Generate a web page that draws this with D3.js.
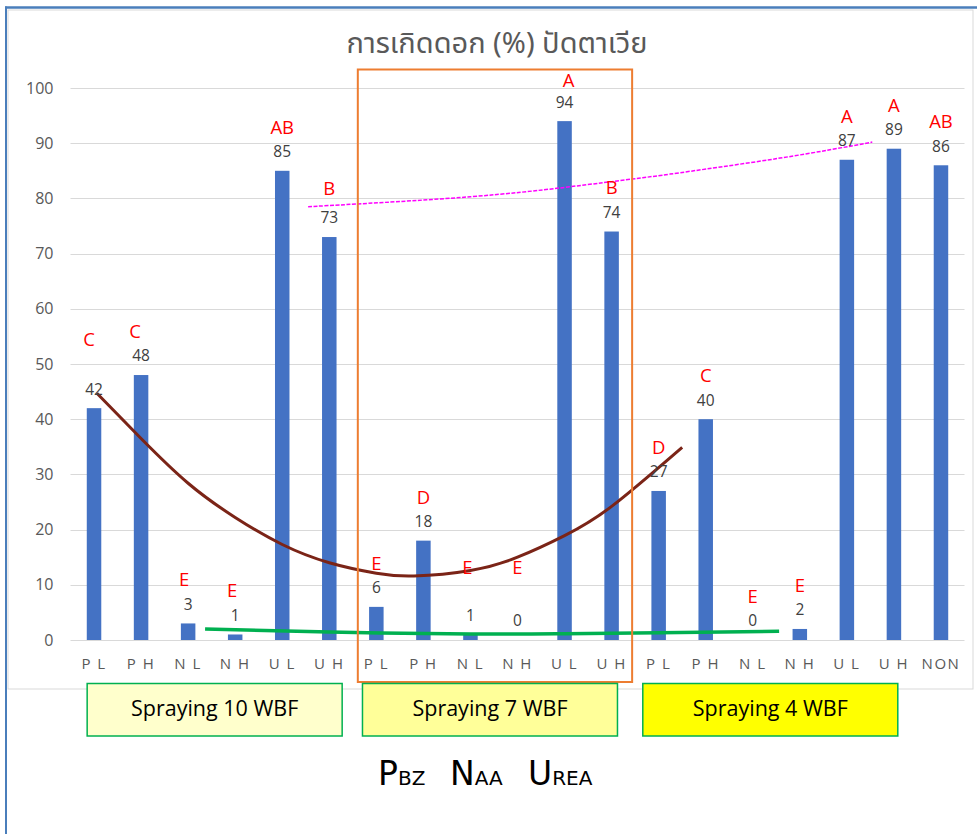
<!DOCTYPE html>
<html>
<head>
<meta charset="utf-8">
<script src="https://cdn.jsdelivr.net/npm/d3@7/dist/d3.min.js"></script>
<style>
  html, body { margin: 0; padding: 0; background: #fff; }
  svg { display: block; }
  text { font-family: "Open Sans", "Noto Sans", "DejaVu Sans", sans-serif; }
</style>
</head>
<body>
<svg id="chart" width="977" height="834"></svg>
<script>
// Flowering percentage per treatment, three spraying times plus the untreated control
const categories = ["P L","P H","N L","N H","U L","U H",
                    "P L","P H","N L","N H","U L","U H",
                    "P L","P H","N L","N H","U L","U H",
                    "NON"];
const values = [42, 48, 3, 1, 85, 73,
                6, 18, 1, 0, 94, 74,
                27, 40, 0, 2, 87, 89,
                86];
const letters = ["C","C","E","E","AB","B",
                 "E","D","E","E","A","B",
                 "D","C","E","E","A","A",
                 "AB"];
const yTicks = [0, 10, 20, 30, 40, 50, 60, 70, 80, 90, 100];

// Spraying groups: first and last category index of each
const groupLabels = ["Spraying 10 WBF", "Spraying 7 WBF", "Spraying 4 WBF"];
const groupFirst = [0, 6, 12];
const groupLast = [5, 11, 17];

// Trend curves as (category position, value) pairs
const trendPBZ = [[0.06, 44.7], [1, 36.5], [2, 28.4], [3, 22.2], [4, 17.3], [5, 14.0],
                  [6, 12.1], [6.8, 11.6], [8, 12.6], [9, 15.0], [10, 18.9], [11, 24.2], [12.5, 34.9]];
const trendNAA = [[2.36, 2.0], [5, 1.45], [8, 1.1], [10, 1.15], [12, 1.3], [14.56, 1.6]];
const trendUrea = [[4.55, 78.5], [5.61, 79.0], [8, 80.3], [10.01, 82.0], [11.43, 83.5],
                   [12.24, 84.4], [14.58, 87.3], [16.54, 90.2]];

const svg = d3.select("#chart");
const W = 977, H = 834;
const plot = { left: 70.5, right: 964.5, top: 88, bottom: 640 };

// Outer frame and chart area
svg.append("rect").attr("x", 8).attr("y", 10).attr("width", 965).attr("height", 679)
  .attr("fill", "#fff").attr("stroke", "#d9d9d9").attr("stroke-width", 1);
svg.append("line").attr("x1", 5).attr("x2", W).attr("y1", 7.5).attr("y2", 7.5)
  .attr("stroke", "#4a7ebb").attr("stroke-width", 2.5);
svg.append("line").attr("x1", 6).attr("x2", 6).attr("y1", 6.5).attr("y2", H)
  .attr("stroke", "#4a7ebb").attr("stroke-width", 2);

const x = d3.scaleBand().domain(d3.range(categories.length))
  .range([plot.left, plot.right]).paddingInner(0).paddingOuter(0);
const y = d3.scaleLinear().domain([0, 100]).range([plot.bottom, plot.top]);
const bw = x.bandwidth();
const xPos = d3.scaleLinear().domain([0, categories.length - 1])
  .range([x(0) + bw / 2, x(categories.length - 1) + bw / 2]);

// Gridlines
svg.append("g").selectAll("line").data(yTicks).join("line")
  .attr("x1", plot.left).attr("x2", plot.right)
  .attr("y1", d => Math.round(y(d)) + 0.5).attr("y2", d => Math.round(y(d)) + 0.5)
  .attr("stroke", "#d9d9d9").attr("stroke-width", 1);

// Y axis
const yAxis = svg.append("g").attr("transform", `translate(${plot.left},0)`)
  .call(d3.axisLeft(y).tickValues(yTicks).tickSize(0).tickPadding(17));
yAxis.select(".domain").remove();
yAxis.selectAll("text").attr("fill", "#595959").style("font-size", "16px");

// X axis
const xAxis = svg.append("g").attr("transform", `translate(0,${plot.bottom})`)
  .call(d3.axisBottom(x).tickSize(0).tickPadding(17).tickFormat(i => categories[i]));
xAxis.select(".domain").remove();
xAxis.selectAll("text").attr("fill", "#595959").style("font-size", "15px")
  .style("letter-spacing", "1.5px").attr("dy", "0.32em").attr("y", 24);

// Bars
const barW = 14.5;
svg.append("g").selectAll("rect").data(values).join("rect")
  .attr("x", (d, i) => x(i) + bw / 2 - barW / 2)
  .attr("width", barW)
  .attr("y", d => y(d))
  .attr("height", d => y(0) - y(d))
  .attr("fill", "#4472c4");

// Trend curves
const line = d3.line().x(d => xPos(d[0])).y(d => y(d[1])).curve(d3.curveNatural);
svg.append("path").datum(trendPBZ).attr("d", line)
  .attr("fill", "none").attr("stroke", "#7b2417").attr("stroke-width", 3);
svg.append("path").datum(trendNAA).attr("d", line)
  .attr("fill", "none").attr("stroke", "#00b050").attr("stroke-width", 3.5);
svg.append("path").datum(trendUrea).attr("d", line)
  .attr("fill", "none").attr("stroke", "#ff00ff").attr("stroke-width", 1.5)
  .attr("stroke-dasharray", "4,1.5");

// Value labels
svg.append("g").selectAll("text").data(values).join("text")
  .attr("x", (d, i) => x(i) + bw / 2)
  .attr("y", d => y(d) - 19)
  .attr("dy", "0.35em")
  .attr("text-anchor", "middle")
  .attr("fill", "#404040")
  .style("font-size", "15.5px")
  .text(d => d);

// Significance letters
const extraLift = { 0: 25, 8: 23, 9: 29, 5: 5, 2: 0, 10: -2.5 };
const shiftX = { 0: -5, 1: -6, 2: -4, 3: -3, 8: -3, 10: 4 };
svg.append("g").selectAll("text").data(letters).join("text")
  .attr("x", (d, i) => x(i) + bw / 2 + (shiftX[i] || 0))
  .attr("y", (d, i) => y(values[i]) - 43.5 - (extraLift[i] || 0))
  .attr("dy", "0.35em")
  .attr("text-anchor", "middle")
  .attr("fill", "#ff0000")
  .style("font-size", "18.5px")
  .text(d => d);

// Highlight frame round the 7 WBF group
svg.append("rect")
  .attr("x", x(groupFirst[1]) + 5).attr("y", 69.5)
  .attr("width", x(groupLast[1]) + bw - 3 - (x(groupFirst[1]) + 5))
  .attr("height", 682 - 69.5)
  .attr("fill", "none").attr("stroke", "#ed7d31").attr("stroke-width", 2);

// Title
svg.append("text").attr("x", 497).attr("y", 53).attr("text-anchor", "middle")
  .attr("fill", "#595959").style("font-size", "29px")
  .style("font-family", "'Noto Sans Thai', 'Noto Sans', 'DejaVu Sans', sans-serif")
  .text("การเกิดดอก (%) ปัดตาเวีย");

// Group boxes under the axis
const groupFill = ["#ffffcc", "#ffff99", "#ffff00"];
const boxShift = [3, -4, -6];
const boxW = 255;
const boxCx = i => (x(groupFirst[i]) + x(groupLast[i]) + bw) / 2 + boxShift[i];
const boxes = svg.append("g").selectAll("g").data(groupLabels).join("g");
boxes.append("rect")
  .attr("x", (d, i) => boxCx(i) - boxW / 2)
  .attr("y", 683.5)
  .attr("width", boxW)
  .attr("height", 52.5)
  .attr("fill", (d, i) => groupFill[i])
  .attr("stroke", "#00b050").attr("stroke-width", 1.5);
boxes.append("text")
  .attr("x", (d, i) => boxCx(i))
  .attr("y", 708).attr("dy", "0.35em").attr("text-anchor", "middle")
  .attr("fill", "#000").style("font-size", "21.5px")
  .text(d => d);

// Treatment key in small caps
const keyWords = [["P", "BZ", 378], ["N", "AA", 450], ["U", "REA", 528]];
keyWords.forEach(([big, small, left]) => {
  const t = svg.append("text").attr("x", left).attr("y", 785)
    .attr("fill", "#000").style("font-family", "'DejaVu Sans', sans-serif");
  t.append("tspan").style("font-size", "33px").text(big);
  t.append("tspan").style("font-size", "20px").text(small);
});
</script>
</body>
</html>
